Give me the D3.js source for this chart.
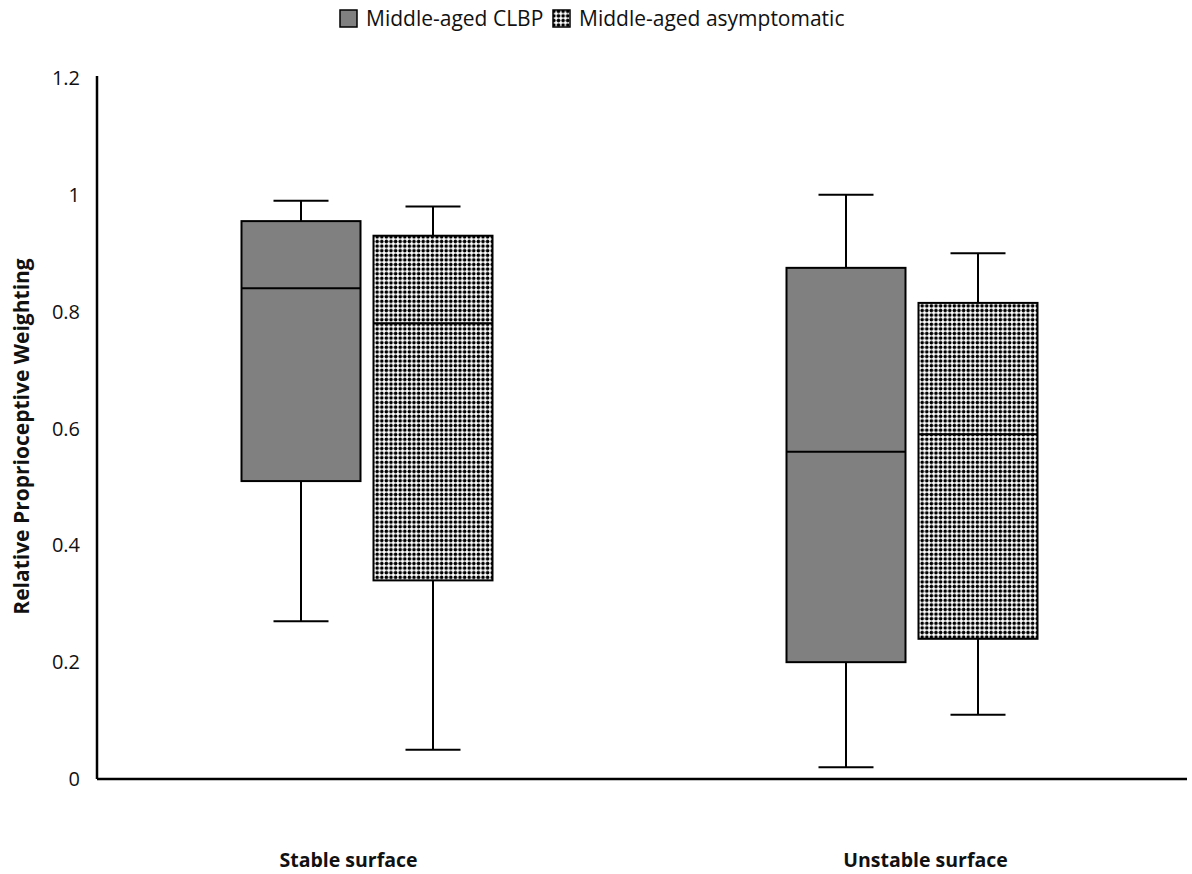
<!DOCTYPE html>
<html>
<head>
<meta charset="utf-8">
<script src="https://cdn.jsdelivr.net/npm/d3@7"></script>
<style>
  body { margin: 0; background: #fff; }
  text { font-family: "Open Sans", "Noto Sans", sans-serif; fill: #111; }
</style>
</head>
<body>
<svg></svg>
<script>
const width = 1192;
const height = 874;

// data
const surfaces = ['Stable surface', 'Unstable surface'];
const groups = ['Middle-aged CLBP', 'Middle-aged asymptomatic'];
const whiskerMin = [[0.27, 0.05], [0.02, 0.11]];
const lowerQuartile = [[0.51, 0.34], [0.20, 0.24]];
const medians = [[0.84, 0.78], [0.56, 0.59]];
const upperQuartile = [[0.955, 0.93], [0.875, 0.815]];
const whiskerMax = [[0.99, 0.98], [1.0, 0.90]];
const yTicks = [0, 0.2, 0.4, 0.6, 0.8, 1, 1.2];

const margin = { top: 78, right: 5, bottom: 95, left: 97 };

const svg = d3.select('svg')
  .attr('width', width)
  .attr('height', height);

const defs = svg.append('defs');
const dots = defs.append('pattern')
  .attr('id', 'dots')
  .attr('width', 4.6)
  .attr('height', 4.6)
  .attr('patternUnits', 'userSpaceOnUse');
dots.append('rect').attr('width', 4.6).attr('height', 4.6).attr('fill', '#fff');
dots.append('circle').attr('cx', 2.3).attr('cy', 2.3).attr('r', 1.8).attr('fill', '#000');

const x = d3.scaleBand()
  .domain(surfaces)
  .range([margin.left, width - margin.right]);

const xInner = d3.scaleBand()
  .domain(groups)
  .range([0, 251])
  .paddingInner(13 / 132);

const y = d3.scaleLinear()
  .domain([0, 1.2])
  .range([height - margin.bottom, margin.top]);

// axes
svg.append('line')
  .attr('x1', margin.left).attr('x2', margin.left)
  .attr('y1', y(1.2) - 2).attr('y2', y(0))
  .attr('stroke', '#000').attr('stroke-width', 2.5);
svg.append('line')
  .attr('x1', margin.left).attr('x2', width - margin.right)
  .attr('y1', y(0)).attr('y2', y(0))
  .attr('stroke', '#000').attr('stroke-width', 2.5);

svg.selectAll('.ytick')
  .data(yTicks)
  .join('text')
  .attr('class', 'ytick')
  .attr('x', 80)
  .attr('y', d => y(d))
  .attr('dy', '0.35em')
  .attr('text-anchor', 'end')
  .style('font-size', '20px')
  .text(d => d);

const labelShift = [-21, 11];
svg.selectAll('.xlabel')
  .data(surfaces)
  .join('text')
  .attr('class', 'xlabel')
  .attr('x', (d, i) => x(d) + x.bandwidth() / 2 + labelShift[i])
  .attr('y', 867)
  .attr('text-anchor', 'middle')
  .style('font-size', '19.5px')
  .style('font-weight', 'bold')
  .text(d => d);

svg.append('text')
  .attr('transform', `translate(29, ${y(0.6) + 8}) rotate(-90)`)
  .attr('text-anchor', 'middle')
  .style('font-size', '21px')
  .style('font-weight', 'bold')
  .text('Relative Proprioceptive Weighting');

// boxes
surfaces.forEach((s, i) => {
  const g = svg.append('g')
    .attr('transform', `translate(${x(s) + x.bandwidth() / 2 - 128}, 0)`);
  groups.forEach((grp, j) => {
    const x0 = xInner(grp);
    const bw = xInner.bandwidth();
    const cx = x0 + bw / 2;
    const cap = 55;
    // whiskers
    g.append('line')
      .attr('x1', cx).attr('x2', cx)
      .attr('y1', y(whiskerMax[i][j])).attr('y2', y(upperQuartile[i][j]))
      .attr('stroke', '#000').attr('stroke-width', 2);
    g.append('line')
      .attr('x1', cx).attr('x2', cx)
      .attr('y1', y(lowerQuartile[i][j])).attr('y2', y(whiskerMin[i][j]))
      .attr('stroke', '#000').attr('stroke-width', 2);
    [whiskerMax[i][j], whiskerMin[i][j]].forEach(v => {
      g.append('line')
        .attr('x1', cx - cap / 2).attr('x2', cx + cap / 2)
        .attr('y1', y(v)).attr('y2', y(v))
        .attr('stroke', '#000').attr('stroke-width', 2);
    });
    g.append('rect')
      .attr('x', x0)
      .attr('y', y(upperQuartile[i][j]))
      .attr('width', bw)
      .attr('height', y(lowerQuartile[i][j]) - y(upperQuartile[i][j]))
      .attr('fill', j === 0 ? '#808080' : 'url(#dots)')
      .attr('stroke', '#000').attr('stroke-width', 2);
    g.append('line')
      .attr('x1', x0).attr('x2', x0 + bw)
      .attr('y1', y(medians[i][j])).attr('y2', y(medians[i][j]))
      .attr('stroke', '#000').attr('stroke-width', 2);
  });
});

// legend
const legend = svg.append('g').attr('transform', 'translate(340, 9)');
const legendX = [0, 213];
groups.forEach((grp, j) => {
  legend.append('rect')
    .attr('x', legendX[j]).attr('y', 1)
    .attr('width', 17).attr('height', 17)
    .attr('fill', j === 0 ? '#808080' : 'url(#dots)')
    .attr('stroke', '#000').attr('stroke-width', 1.5);
  legend.append('text')
    .attr('x', legendX[j] + 26).attr('y', 10)
    .attr('dy', '0.35em')
    .style('font-size', '21px')
    .text(grp);
});
</script>
</body>
</html>
